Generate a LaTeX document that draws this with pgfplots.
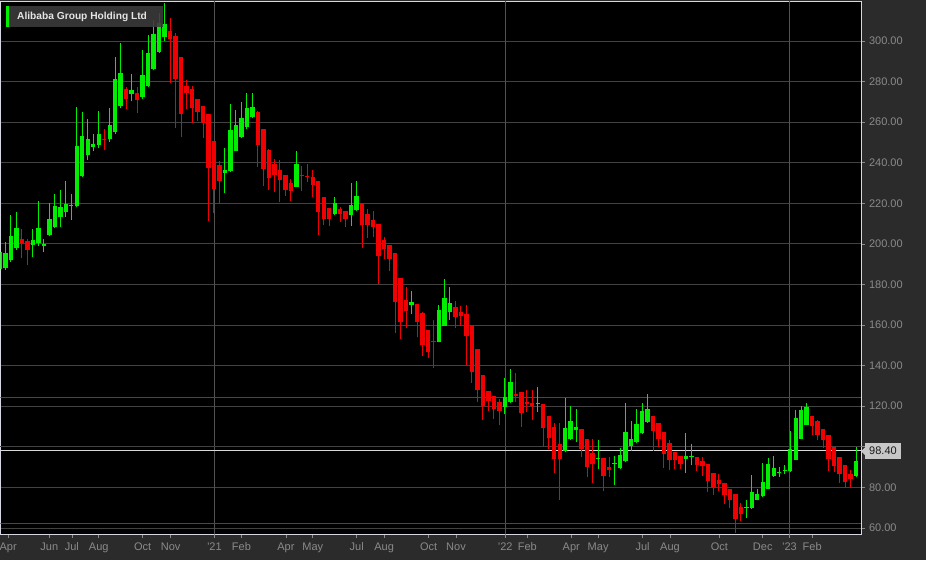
\documentclass[border=0pt]{standalone}
\usepackage{fontspec}
\setmainfont{Liberation Sans}
\usepackage{pgfplots}
\usepackage{pgfplotstable}
\pgfplotsset{compat=1.18}
\definecolor{bgout}{RGB}{43,43,43}
\definecolor{gridc}{RGB}{66,66,66}
\definecolor{yearc}{RGB}{82,82,82}
\definecolor{tickc}{RGB}{138,138,138}
\definecolor{upc}{RGB}{0,238,0}
\definecolor{dnc}{RGB}{240,0,0}
\definecolor{framec}{RGB}{215,215,228}
\definecolor{legbg}{RGB}{60,60,60}

% weekly candles: index O H L C
\pgfplotstableread{
i O H L C
0 187.5 199 186 196
1 188 201 187 195.7
2 192 214.4 191 204
3 198 215.7 197 208
6 199.2 207.5 193.6 201.8
7 200.5 221 198.9 207.9
8 199 202.6 196 200
9 204.3 220.2 204 212.1
10 208.4 224.8 207.9 218.5
11 213.4 226.4 208.4 218
12 215.7 230.8 213 219.8
13 218.5 224.8 211.6 218.9
14 218.5 267.7 218.2 248.2
15 233.4 265.2 233 253.1
16 243.6 261.6 241.5 251.8
17 247.7 254.3 245.7 249
18 248.5 265.7 247.4 254.3
20 251.5 266.9 250.2 258.7
21 255.2 292.3 254 281.4
22 268 298.9 266.9 284
24 274 283.8 270.2 275.6
26 272.6 295.6 271.6 283.3
27 278 302.9 277.2 293.9
28 286.1 310.3 285.7 303.4
29 294.8 313.9 294 309
30 302.1 318.9 300.2 308.4
41 234.9 247.2 225.1 236.2
42 235.7 269 235.2 255.9
43 245.9 266.1 245.6 258.7
44 252.5 269.7 252 262
45 257.4 274.3 256.7 266.9
46 262.5 274.3 262 267.4
54 228 245.9 228 239.5
61 214.9 223.1 214.4 220.2
64 214.1 230 208.7 219.3
65 216.9 231.1 216.1 223.4
75 169.8 176.9 165.4 171.1
80 151.8 170 151.5 167.4
81 159.7 182.6 159.7 173.3
82 166.6 178.5 162.6 170.8
92 119.7 133.9 115.9 124.4
93 122.1 138.4 121.6 132
98 120.9 129.5 117 121.6
103 97.9 124.1 97.4 109.3
104 103.6 120.3 103.1 112.9
105 108.2 118.4 102.3 109.8
109 94.1 103.1 88.9 94.6
112 91.5 95.2 81 92
113 89.5 99.3 89.2 95.7
114 92.8 121.6 92.5 107.2
115 100.3 112.9 97.7 103.9
116 102.3 118.7 102 111.3
117 106.9 121.6 106.4 117.4
118 112.1 126.1 111.8 118.4
125 93.8 106.7 87 95.2
126 94.8 101.5 90.8 95.2
136 69.7 73.6 64.9 70
137 69.8 85.9 69.2 77.7
138 73.9 79.3 73.6 76.9
139 75.6 92.1 75.2 82.6
140 79.3 94.4 79 91.6
141 85.6 95.4 85.1 89.5
142 87 90 85.1 87.3
143 88 90.8 86.7 88.3
144 87.9 108 87.5 99
145 93.6 117.9 93.3 114.1
146 103.9 120 103.6 117.9
147 110.8 121.6 110.5 119.5
156 85.4 99.8 85.1 93
}\upcandles

\pgfplotstableread{
i O H L C
4 202.6 207.5 192.8 200.5
5 201.5 202.6 189.5 196.9
19 251.5 256.7 246.1 251.2
23 276.2 277.2 266.4 271.3
25 274.4 277.5 264.4 270.7
31 305.1 311.1 279.5 300.8
32 302.6 303.8 257 281.3
33 292 292 252.6 264.1
34 277.9 280.8 266.4 274.6
35 276.2 277.9 259.8 267.2
36 271.5 271.5 260.8 264.9
37 268 268 252.1 259.5
38 263.9 264 211.1 237.4
39 250.5 250.5 215.2 227
40 238.7 240.7 220.2 230.8
47 264.9 265.5 237.9 248.5
48 256.6 256.6 228.7 236.9
49 246.4 246.7 226.7 232.5
50 239.3 241.8 225.7 234.1
51 236.6 241.1 220.7 231.6
52 233.8 233.8 223.8 226.4
53 230 232 221 225.9
55 233.8 238.5 225.9 233.2
56 233.5 239.5 230.3 233
57 233 236.6 223.1 229.2
58 230.8 230.8 204.3 215.6
59 223.1 223.1 209.2 212.3
60 217.7 217.7 208.7 212.3
62 217.4 218.2 210.7 214.9
63 216.1 216.1 208.4 212.3
66 220.3 220.3 198.2 209.2
67 214.6 217 203.1 209.2
68 211.6 216.2 203.6 208.4
69 210 210 180.2 193.8
70 201.8 203.4 192.5 197.4
71 199.3 199.3 186.7 192.5
72 195.7 195.7 156.1 171.5
73 183.4 183.4 153.1 161.6
74 172.5 178.5 158.4 167
76 170.3 170.3 153.9 161.6
77 165.9 166.2 144.9 150.2
78 157.7 157.7 143.6 146.9
79 152.3 162.6 138.7 151.5
83 168.7 172 158.4 164.1
84 166.2 169.5 159.7 164.6
85 165.4 170 140.3 154.8
86 160 160 131.5 136.7
87 148.2 148.2 122 128
88 135.3 135.3 113.1 120.3
89 127.7 127.7 117.5 122.5
90 125.2 125.2 113.8 118.4
91 122 123.6 110.5 117.5
94 126 136.4 122 125
95 127 127 109.7 116.7
96 121.8 128.2 117 121.3
97 121.6 128.2 113.1 120
99 121.1 121.1 100 109.3
100 115.1 115.1 99 104.1
101 109.7 111.8 86.9 94.1
102 101.6 111.8 73.8 93.8
106 108.9 108.9 94.9 99
107 103.9 103.9 85.2 90.2
108 97 103.6 82 91.3
110 94.4 94.4 78 85.6
111 90 94.9 85.1 88.7
119 115.1 115.1 97.7 108
120 111.6 111.6 99.8 103.6
121 107.5 107.5 89.5 96.2
122 102 103.1 88.4 93.6
123 97.4 97.4 89.2 93.6
124 95.2 95.2 89.2 91.6
127 94.9 94.9 87.9 90.8
128 93 94.9 85.6 90.3
129 91.6 91.6 77.7 82.9
130 87.2 87.2 76.4 79.7
131 83.4 86.7 78 81.5
132 82.3 82.3 72 76.4
133 79.3 79.3 69.8 73.9
134 76.6 76.6 57.7 64.3
135 70.3 72.3 63.3 67
148 115.1 115.1 105.9 110.2
149 112.5 113 103.1 105.6
150 108.9 108.9 99.3 103.1
151 105.9 105.9 87.9 94.1
152 99.8 99.8 87.5 90.5
153 94.9 94.9 82.3 86.7
154 90.8 90.8 79.7 82.6
155 86.7 88.4 79.7 83.9
}\downcandles

\begin{document}
\begin{tikzpicture}
\fill[bgout] (0,0) rectangle (926pt,560pt);
\useasboundingbox (0,0) rectangle (926pt,560pt);
\begin{axis}[
  at={(0.5pt,26pt)}, anchor=south west,
  scale only axis, width=860.5pt, height=533pt,
  xmin=0.1, xmax=156.9, ymin=57, ymax=319.7,
  axis background/.style={fill=black},
  axis line style={draw=framec, line width=0.8pt},
  /pgf/number format/assume math mode=true,
  ytick={60,80,120,140,...,300},
  extra y ticks={100}, extra y tick labels={},
  yticklabel pos=right, ytick pos=right, xtick pos=left,
  yticklabel style={/pgf/number format/.cd, fixed, fixed zerofill, precision=2, /tikz/.cd,
     font=\fontsize{11}{13}\selectfont, text=tickc, xshift=1pt},
  xticklabel style={font=\fontsize{11}{13}\selectfont, text=tickc, yshift=-1.5pt},
  ymajorgrids, grid style={draw=gridc, line width=0.8pt},
  tick align=outside, major tick length=3.5pt,
  tick style={draw=tickc, line width=0.6pt},
  xtick={1.5,9,13.1,18,26,31.1,44,52.1,57,65,70,78.1,83.1,96.1,104.1,109,117.1,122.1,131.1,139,148},
  xticklabels={Apr,Jun,Jul,Aug,Oct,Nov,Feb,Apr,May,Jul,Aug,Oct,Nov,Feb,Apr,May,Jul,Aug,Oct,Dec,Feb},
  extra x ticks={39.1,92.1,143.9},
  extra x tick labels={\textquotesingle21,\textquotesingle22,\textquotesingle23},
  extra x tick style={grid=major, major grid style={draw=yearc, line width=0.8pt}},
]
% horizontal reference lines
\addplot[dnc, line width=0.9pt, forget plot] coordinates {(0.1,124.4) (156.9,124.4)};
\addplot[dnc, line width=0.9pt, forget plot] coordinates {(0.1,62.3) (156.9,62.3)};
\addplot[white!85!black, line width=0.9pt, forget plot] coordinates {(0.1,98.4) (156.9,98.4)};
% wicks
\addplot[draw=none, mark=none, forget plot, error bars/.cd, y dir=plus, y explicit, error mark=none,
  error bar style={draw=upc, line width=1pt}]
  table[x=i, y=L, y error plus expr=\thisrow{H}-\thisrow{L}] {\upcandles};
\addplot[draw=none, mark=none, forget plot, error bars/.cd, y dir=plus, y explicit, error mark=none,
  error bar style={draw=dnc, line width=1pt}]
  table[x=i, y=L, y error plus expr=\thisrow{H}-\thisrow{L}] {\downcandles};
% bodies
\addplot[draw=none, mark=none, forget plot, error bars/.cd, y dir=plus, y explicit, error mark=none,
  error bar style={draw=upc, line width=4.4pt}]
  table[x=i, y=O, y error plus expr={max(\thisrow{C}-\thisrow{O},0.6)}] {\upcandles};
\addplot[draw=none, mark=none, forget plot, error bars/.cd, y dir=plus, y explicit, error mark=none,
  error bar style={draw=dnc, line width=4.4pt}]
  table[x=i, y=C, y error plus expr={max(\thisrow{O}-\thisrow{C},0.6)}] {\downcandles};
\end{axis}
% title box
\fill[legbg, opacity=0.88] (8.7pt,532.5pt) rectangle (163.3pt,554pt);
\fill[upc] (6pt,532.5pt) rectangle (8.7pt,554pt);
\node[anchor=west, inner sep=0pt, text=white!90!black, font=\bfseries\fontsize{10.2}{12}\selectfont] at (17pt,543.3pt) {Alibaba Group Holding Ltd};
% last price tag
\fill[white!78!black] (865pt,101pt) rectangle (900.7pt,116.7pt);
\fill[white!78!black] (861pt,108.8pt) -- (865pt,112.5pt) -- (865pt,105pt) -- cycle;
\node[text=black!90, font=\fontsize{11}{13}\selectfont, inner sep=0pt] at (883pt,108.8pt) {98.40};
\end{tikzpicture}
\end{document}
